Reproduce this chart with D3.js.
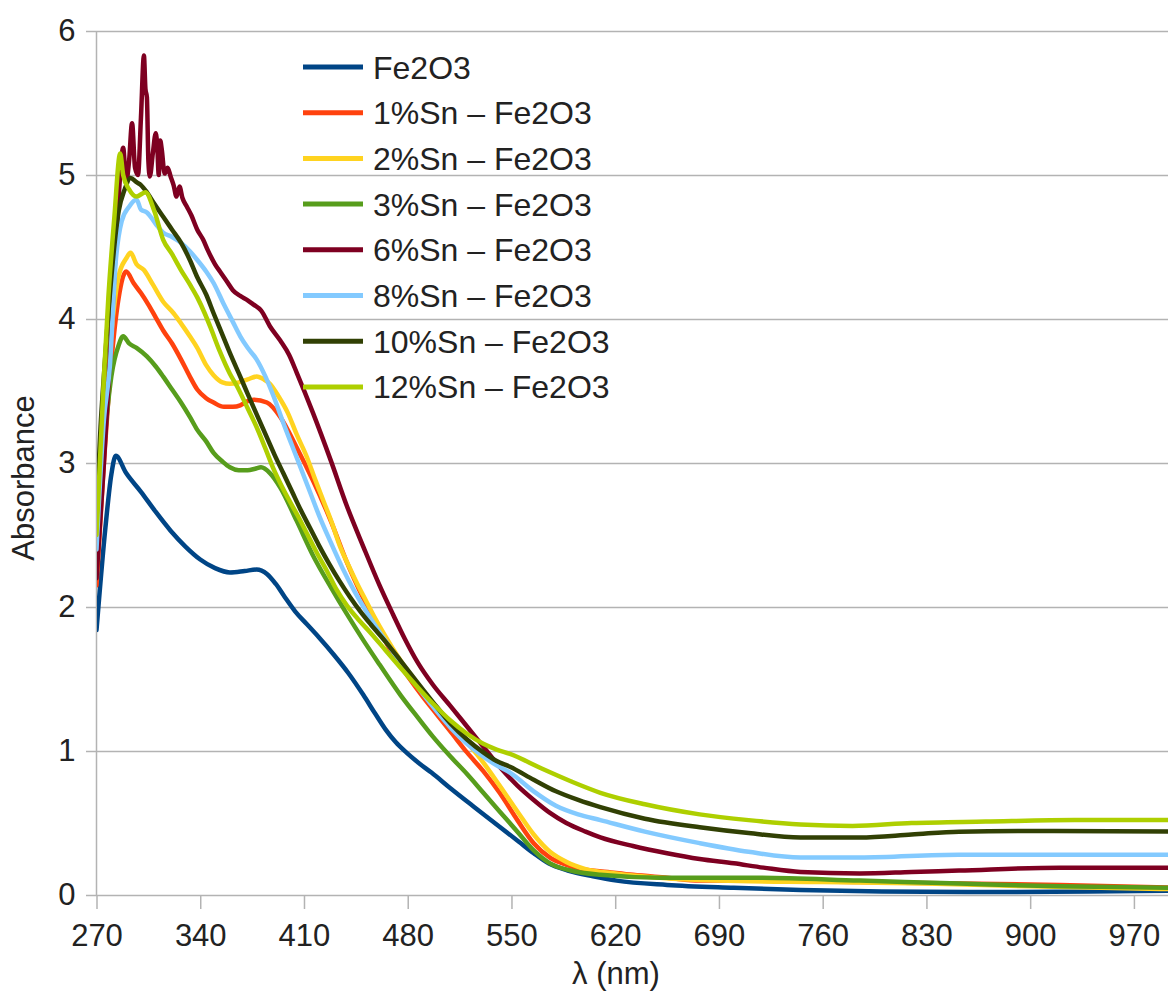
<!DOCTYPE html>
<html><head><meta charset="utf-8">
<script src="https://cdn.jsdelivr.net/npm/d3@7"></script>
<style>
html,body{margin:0;padding:0;background:#fff;}
text{font-family:"Liberation Sans",Arial,sans-serif;fill:#222;}
</style></head>
<body><svg id="chart" width="1168" height="994"></svg>
<script>
// ---- data ----
const xTicks = [270,340,410,480,550,620,690,760,830,900,970];
const yTicks = [0,1,2,3,4,5,6];
const seriesNames = ["Fe2O3","1%Sn – Fe2O3","2%Sn – Fe2O3","3%Sn – Fe2O3","6%Sn – Fe2O3","8%Sn – Fe2O3","10%Sn – Fe2O3","12%Sn – Fe2O3"];
const seriesColors = ["#004586","#ff420e","#ffd320","#579d1c","#7e0021","#83caff","#314004","#aecf00"];

const fe2o3 = [[270,1.84],[276,2.55],[280,2.92],[283,3.05],[290,2.93],[300,2.80],[310,2.66],[320,2.53],[330,2.42],[340,2.33],[350,2.27],[360,2.24],[370,2.25],[378,2.26],[385,2.23],[391,2.16],[397,2.07],[404,1.97],[412,1.88],[420,1.79],[430,1.67],[440,1.54],[450,1.39],[458,1.26],[465,1.15],[472,1.06],[479,0.99],[487,0.92],[496,0.85],[509,0.74],[525,0.61],[540,0.49],[555,0.37],[565,0.29],[575,0.22],[588,0.17],[605,0.13],[621,0.10],[655,0.07],[700,0.05],[745,0.035],[800,0.025],[870,0.02],[940,0.025],[1000,0.03]];
const sn1 = [[270,2.15],[275,3.0],[280,3.7],[285,4.15],[290,4.33],[295,4.25],[300,4.18],[305,4.1],[310,4.01],[315,3.92],[321,3.83],[327,3.72],[333,3.60],[338,3.51],[344,3.45],[349,3.42],[356,3.39],[362,3.39],[367,3.40],[372,3.43],[376,3.44],[385,3.42],[394,3.32],[405,3.11],[416,2.88],[428,2.60],[439,2.31],[450,2.06],[461,1.84],[470,1.67],[480,1.52],[490,1.38],[500,1.25],[510,1.12],[520,0.99],[531,0.86],[542,0.71],[554,0.52],[565,0.36],[576,0.26],[587,0.21],[598,0.18],[615,0.16],[632,0.14],[655,0.12],[677,0.10],[720,0.10],[785,0.09],[852,0.08],[920,0.07],[1000,0.05]];
const sn2 = [[270,2.25],[275,3.2],[280,3.9],[285,4.3],[290,4.42],[293,4.46],[297,4.38],[302,4.34],[308,4.24],[315,4.12],[322,4.04],[327,3.97],[333,3.88],[338,3.80],[344,3.68],[349,3.61],[355,3.56],[360,3.55],[366,3.56],[372,3.58],[378,3.60],[383,3.58],[387,3.55],[393,3.46],[399,3.35],[405,3.20],[412,3.04],[417,2.90],[423,2.74],[429,2.58],[434,2.43],[440,2.29],[446,2.16],[452,2.04],[457,1.94],[463,1.83],[470,1.71],[477,1.60],[487,1.46],[497,1.33],[509,1.19],[520,1.06],[531,0.92],[542,0.76],[554,0.58],[565,0.42],[576,0.30],[587,0.23],[600,0.18],[620,0.15],[650,0.12],[690,0.10],[760,0.09],[830,0.08],[900,0.06],[1000,0.04]];
const sn3 = [[270,2.3],[275,3.1],[280,3.6],[285,3.82],[288,3.88],[292,3.83],[297,3.80],[304,3.74],[310,3.67],[315,3.60],[321,3.51],[327,3.42],[333,3.32],[338,3.23],[344,3.15],[349,3.07],[355,3.01],[360,2.97],[366,2.95],[372,2.95],[377,2.96],[381,2.97],[387,2.93],[394,2.83],[405,2.60],[416,2.36],[428,2.14],[439,1.95],[450,1.77],[461,1.60],[475,1.39],[487,1.23],[497,1.10],[509,0.96],[520,0.84],[531,0.71],[542,0.58],[554,0.44],[565,0.31],[576,0.22],[590,0.17],[610,0.14],[650,0.12],[718,0.12],[785,0.10],[852,0.08],[920,0.06],[1000,0.05]];
const sn6 = [[270,2.2],[275,3.0],[280,3.9],[283,4.5],[286,5.0],[288,5.19],[290,4.95],[292,5.1],[294,5.36],[296,5.05],[298,5.0],[300,5.4],[302,5.83],[303,5.6],[304,5.54],[305,5.1],[306,4.99],[308,5.15],[310,5.29],[311,5.2],[312,5.0],[313,5.24],[314,5.18],[316,5.01],[318,5.05],[320,4.99],[322,4.93],[324,4.85],[326,4.92],[328,4.84],[331,4.78],[334,4.72],[338,4.62],[342,4.55],[345,4.48],[350,4.38],[354,4.32],[358,4.26],[362,4.20],[367,4.16],[372,4.13],[376,4.10],[381,4.06],[387,3.95],[394,3.85],[400,3.75],[405,3.63],[416,3.35],[428,3.02],[439,2.70],[450,2.42],[461,2.15],[470,1.95],[478,1.78],[487,1.61],[497,1.46],[509,1.31],[520,1.17],[531,1.03],[542,0.89],[554,0.76],[565,0.66],[576,0.57],[587,0.50],[600,0.44],[610,0.40],[632,0.34],[655,0.29],[677,0.25],[700,0.22],[720,0.19],[745,0.16],[785,0.15],[820,0.16],[852,0.17],[920,0.19],[1000,0.19]];
const sn8 = [[270,2.4],[275,3.3],[279,3.67],[283,4.4],[287,4.68],[292,4.78],[297,4.83],[300,4.76],[304,4.74],[310,4.66],[315,4.60],[321,4.57],[327,4.53],[333,4.47],[338,4.41],[344,4.33],[349,4.25],[356,4.10],[362,3.98],[367,3.88],[372,3.80],[378,3.72],[384,3.60],[390,3.45],[396,3.28],[402,3.12],[408,2.96],[414,2.80],[420,2.64],[428,2.45],[436,2.27],[444,2.11],[452,1.97],[460,1.84],[470,1.69],[480,1.54],[490,1.40],[500,1.27],[510,1.15],[520,1.05],[530,0.97],[540,0.90],[549,0.85],[565,0.72],[580,0.62],[595,0.56],[610,0.52],[640,0.44],[677,0.36],[710,0.30],[745,0.26],[785,0.26],[852,0.28],[920,0.28],[1000,0.28]];
const sn10 = [[270,2.6],[273,3.3],[274,3.46],[277,3.9],[281,4.4],[285,4.75],[289,4.9],[293,4.98],[297,4.95],[300,4.93],[304,4.88],[309,4.80],[315,4.71],[321,4.62],[327,4.53],[333,4.41],[338,4.29],[344,4.17],[349,4.04],[355,3.89],[361,3.74],[367,3.60],[372,3.48],[378,3.34],[384,3.20],[390,3.06],[396,2.93],[402,2.80],[408,2.67],[414,2.55],[420,2.43],[427,2.30],[434,2.18],[441,2.07],[448,1.97],[455,1.88],[465,1.76],[475,1.63],[487,1.47],[497,1.34],[509,1.19],[520,1.08],[531,0.99],[540,0.93],[549,0.89],[565,0.80],[580,0.72],[595,0.66],[610,0.61],[640,0.53],[677,0.47],[710,0.43],[745,0.40],[785,0.40],[820,0.42],[852,0.44],[900,0.445],[1000,0.44]];
const sn12 = [[270,2.5],[275,3.6],[278,4.15],[282,4.7],[286,5.15],[288,5.0],[292,4.9],[297,4.85],[303,4.88],[309,4.75],[315,4.55],[321,4.45],[327,4.34],[333,4.24],[338,4.15],[343,4.04],[347,3.94],[353,3.78],[360,3.62],[365,3.53],[372,3.38],[378,3.25],[384,3.10],[389,2.97],[394,2.86],[399,2.76],[406,2.63],[412,2.51],[419,2.37],[426,2.24],[432,2.12],[439,2.01],[447,1.91],[455,1.82],[465,1.70],[475,1.58],[487,1.44],[497,1.33],[509,1.21],[520,1.12],[531,1.05],[540,1.01],[549,0.98],[570,0.88],[590,0.79],[610,0.71],[640,0.63],[677,0.56],[710,0.52],[745,0.49],[780,0.48],[820,0.50],[870,0.51],[930,0.52],[1000,0.52]];
const allSeries = [fe2o3, sn1, sn2, sn3, sn6, sn8, sn10, sn12];

// ---- chart ----
const svg = d3.select("#chart");
const x = d3.scaleLinear().domain([270, 993]).range([96.5, 1168]);
const y = d3.scaleLinear().domain([0, 6]).range([895, 31]);
const grey = "#b3b3b3";

// gridlines
svg.append("g").selectAll("line").data(yTicks).join("line")
  .attr("x1", 86).attr("x2", 1168)
  .attr("y1", d => Math.round(y(d)) + 0.5).attr("y2", d => Math.round(y(d)) + 0.5)
  .attr("stroke", grey).attr("stroke-width", 1.5);

// y axis line
svg.append("line").attr("x1", 96.5).attr("x2", 96.5).attr("y1", y(6)).attr("y2", y(0))
  .attr("stroke", grey).attr("stroke-width", 1.5);

// x axis
const xAxis = d3.axisBottom(x).tickValues(xTicks).tickSize(14).tickPadding(8).tickFormat(d3.format("d"));
const gx = svg.append("g").attr("transform", `translate(0,${y(0)})`).call(xAxis);
gx.select(".domain").remove();
gx.selectAll(".tick line").attr("stroke", grey).attr("stroke-width", 1.5);
gx.selectAll(".tick text").attr("font-size", 31).attr("fill", "#222").attr("dy", "0.95em").style("font-family", "Liberation Sans, Arial, sans-serif");

// y axis labels
const yAxis = d3.axisLeft(y).tickValues(yTicks).tickSize(0).tickPadding(21).tickFormat(d3.format("d"));
const gy = svg.append("g").attr("transform", `translate(96.5,0)`).call(yAxis);
gy.select(".domain").remove();
gy.selectAll(".tick text").attr("font-size", 31).attr("fill", "#222").style("font-family", "Liberation Sans, Arial, sans-serif");

// axis titles
svg.append("text").attr("x", 616).attr("y", 984).attr("text-anchor", "middle").attr("font-size", 31).text("λ (nm)");
svg.append("text").attr("transform", "translate(34,478) rotate(-90)").attr("text-anchor", "middle").attr("font-size", 31).text("Absorbance");

// clip
svg.append("clipPath").attr("id", "plotclip").append("rect").attr("x", 97).attr("y", 0).attr("width", 1071).attr("height", 994);

const line = d3.line().x(d => x(d[0])).y(d => y(d[1])).curve(d3.curveMonotoneX);
svg.append("g").attr("clip-path", "url(#plotclip)").selectAll("path").data(allSeries).join("path")
  .attr("d", line).attr("fill", "none")
  .attr("stroke", (d, i) => seriesColors[i]).attr("stroke-width", 4.5)
  .attr("stroke-linejoin", "round").attr("stroke-linecap", "round");

// legend
const legend = svg.append("g").selectAll("g").data(seriesNames).join("g")
  .attr("transform", (d, i) => `translate(303,${67 + i * 45.7})`);
legend.append("line").attr("x1", 0).attr("x2", 60).attr("y1", 0).attr("y2", 0)
  .attr("stroke", (d, i) => seriesColors[i]).attr("stroke-width", 5);
legend.append("text").attr("x", 70).attr("y", 0).attr("dy", "0.36em").attr("font-size", 32).text(d => d);
</script></body></html>
